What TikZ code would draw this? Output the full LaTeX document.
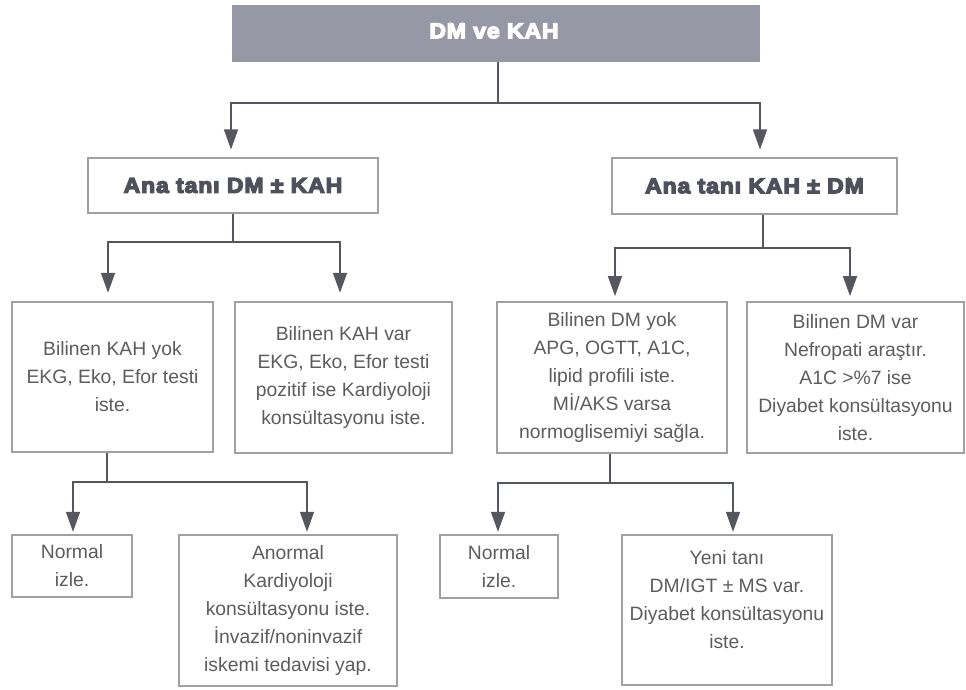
\documentclass[tikz,border=0pt]{standalone}
\usepackage{fontspec}
\setmainfont{Liberation Sans}
\newfontfamily\heavy[FakeStretch=1.08,FakeBold=6,LetterSpace=4]{Liberation Sans Bold}
\usetikzlibrary{arrows.meta,fit}
\definecolor{titlefill}{HTML}{9698A5}
\definecolor{ink}{HTML}{4E505C}
\definecolor{txt}{HTML}{5C5C5C}
\definecolor{frame}{HTML}{A0A0A0}
\definecolor{conn}{HTML}{55575F}
\begin{document}
\begin{tikzpicture}[x=0.75pt,y=-0.75pt,
  box/.style={draw=frame,line width=0.8pt,inner sep=0pt},
  bodytext/.style={inner sep=0pt,align=center,text=txt,
    font=\fontsize{14.5}{21}\selectfont},
  headtext/.style={inner sep=0pt,align=center,text=ink,
    font=\heavy\fontsize{16}{18}\selectfont},
  titlebox/.style={fill=titlefill,draw=none,inner sep=0pt},
  titletext/.style={inner sep=0pt,text=white,font=\heavy\fontsize{16}{18}\selectfont},
  link/.style={draw=conn,line width=1.1pt},
  arrow/.style={link,-{Triangle[width=10.5pt,length=15pt]}}]
\path[use as bounding box] (0,0) rectangle (966,689);

% boxes
\node[titlebox,fit={(232,5) (760,62)}] (title) {};
\node[titletext] (titlet) at (494,31) {DM ve KAH};
\node[box,fit={(88,158) (378,213)}] (a1) {};
\node[headtext] (a1t) at (a1) {Ana tanı DM ± KAH};
\node[box,fit={(612,158) (897,214)}] (a2) {};
\node[headtext] (a2t) at (a2) {Ana tanı KAH ± DM};

\node[box,fit={(12,302) (213,452)}] (b1) {};
\node[bodytext] (b1t) at (b1) {Bilinen KAH yok\\EKG, Eko, Efor testi\\iste.};
\node[box,fit={(235,302) (452,453)}] (b2) {};
\node[bodytext] (b2t) at (b2) {Bilinen KAH var\\EKG, Eko, Efor testi\\pozitif ise Kardiyoloji\\konsültasyonu iste.};
\node[box,fit={(497,302) (727,453)}] (b3) {};
\node[bodytext] (b3t) at (b3) {Bilinen DM yok\\APG, OGTT, A1C,\\lipid profili iste.\\Mİ/AKS varsa\\normoglisemiyi sağla.};
\node[box,fit={(747,302) (964,453)}] (b4) {};
\node[bodytext] (b4t) at (b4) {Bilinen DM var\\Nefropati araştır.\\A1C >\%7 ise\\Diyabet konsültasyonu\\iste.};

\node[box,fit={(12,535) (132,597)}] (c1) {};
\node[bodytext] (c1t) at (c1) {Normal\\izle.};
\node[box,fit={(179,535) (397,686)}] (c2) {};
\node[bodytext] (c2t) at (c2) {Anormal\\Kardiyoloji\\konsültasyonu iste.\\İnvazif/noninvazif\\iskemi tedavisi yap.};
\node[box,fit={(440,535) (558,598)}] (c3) {};
\node[bodytext] (c3t) at (c3) {Normal\\izle.};
\node[box,fit={(622,535) (832,685)}] (c4) {};
\node[bodytext] (c4t) at (727,600) {Yeni tanı\\DM/IGT ± MS var.\\Diyabet konsültasyonu\\iste.};

% level 1 connectors
\coordinate (t0) at (498,103);
\coordinate (tL) at (231,103);
\coordinate (tR) at (760,103);
\draw[link] (title.south -| t0) -- (t0);
\draw[arrow,shorten >=6pt] (t0) -| (a1.north -| tL);
\draw[arrow,shorten >=6pt] (t0) -| (a2.north -| tR);

% level 2 left
\coordinate (u0) at (233,242);
\coordinate (uL) at (108,242);
\coordinate (uR) at (340,242);
\draw[link] (a1.south -| u0) -- (u0);
\draw[arrow,shorten >=6.5pt] (u0) -| (b1.north -| uL);
\draw[arrow,shorten >=6.5pt] (u0) -| (b2.north -| uR);

% level 2 right
\coordinate (v0) at (763,248);
\coordinate (vL) at (615,248);
\coordinate (vR) at (850,248);
\draw[link] (a2.south -| v0) -- (v0);
\draw[arrow,shorten >=4pt] (v0) -| (b3.north -| vL);
\draw[arrow,shorten >=4pt] (v0) -| (b4.north -| vR);

% level 3 left
\coordinate (w0) at (107,482);
\coordinate (wL) at (73,482);
\coordinate (wR) at (307,482);
\draw[link] (b1.south -| w0) -- (w0);
\draw[arrow,shorten >=2pt] (w0) -| (c1.north -| wL);
\draw[arrow,shorten >=2pt] (w0) -| (c2.north -| wR);

% level 3 right
\coordinate (z0) at (610,483);
\coordinate (zL) at (498,483);
\coordinate (zR) at (733,483);
\draw[link] (b3.south -| z0) -- (z0);
\draw[arrow,shorten >=2pt] (z0) -| (c3.north -| zL);
\draw[arrow,shorten >=2pt] (z0) -| (c4.north -| zR);
\end{tikzpicture}
\end{document}
